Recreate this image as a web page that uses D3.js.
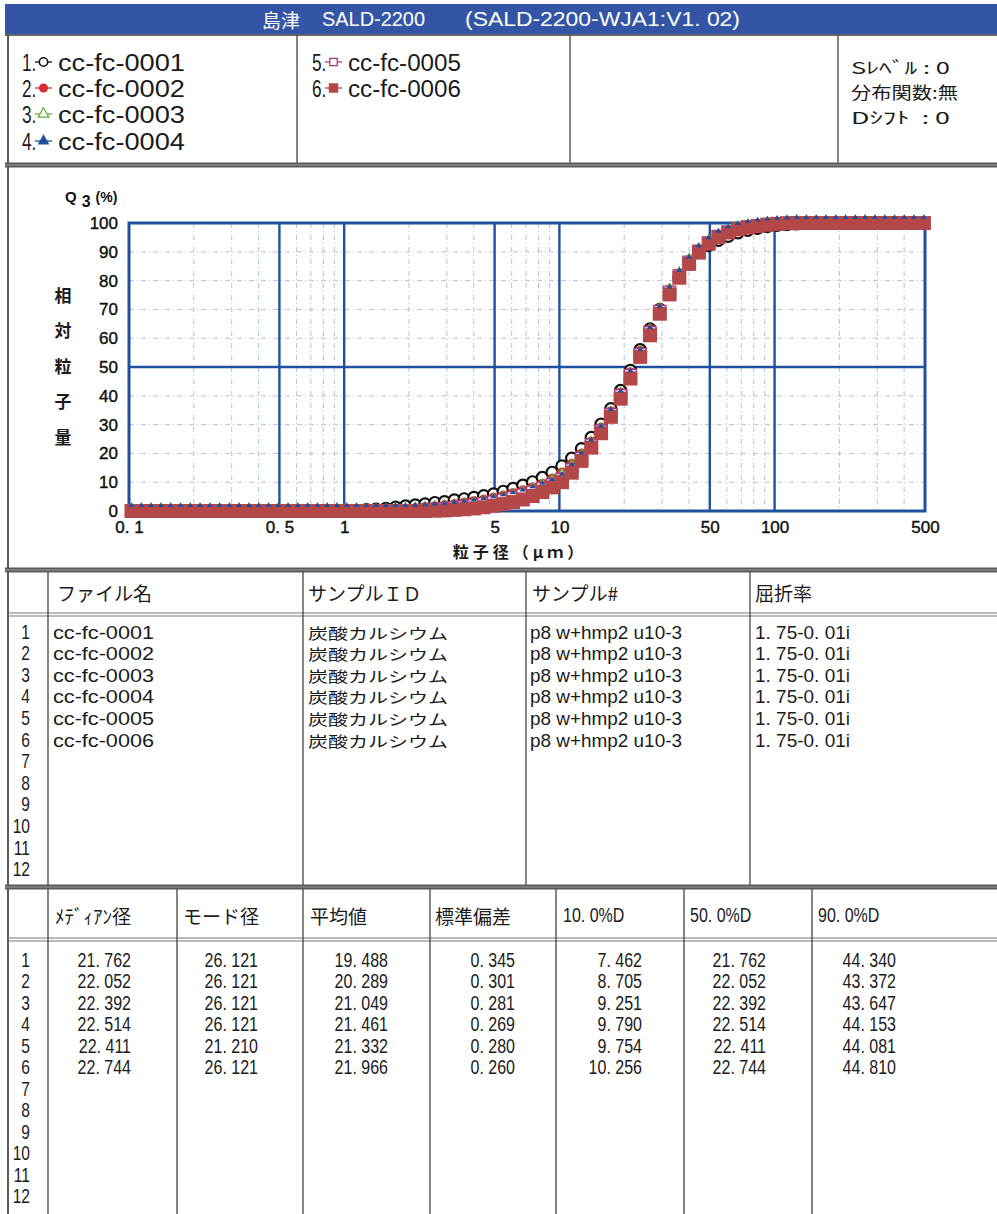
<!DOCTYPE html>
<html>
<head>
<meta charset="utf-8">
<script src="https://cdn.jsdelivr.net/npm/d3@7"></script>
<style>
  body { margin: 0; background: #fff; }
  svg { display: block; }
  text { white-space: pre; }
</style>
</head>
<body>
<svg id="page" width="997" height="1214"></svg>
<script>
// ---- Particle size channels (µm) ----
const sizes = [
  0.1028, 0.1141, 0.1268, 0.1407, 0.1562, 0.1735, 0.1926, 0.2139, 0.2375, 0.2637,
  0.2928, 0.3251, 0.3610, 0.4008, 0.4450, 0.4941, 0.5486, 0.6091, 0.6763, 0.7509,
  0.8337, 0.9257, 1.028, 1.141, 1.267, 1.407, 1.562, 1.734, 1.926, 2.138,
  2.374, 2.636, 2.927, 3.250, 3.609, 4.007, 4.449, 4.939, 5.484, 6.089,
  6.761, 7.507, 8.335, 9.256, 10.28, 11.41, 12.67, 14.07, 15.62, 17.34,
  19.26, 21.38, 23.74, 26.36, 29.27, 32.50, 36.08, 40.07, 44.48, 49.39,
  54.83, 60.89, 67.60, 75.07, 83.34, 92.54, 102.7, 114.1, 126.6, 140.6,
  156.1, 173.4, 192.5, 213.7, 237.3, 263.5, 292.6, 324.9, 360.7, 400.5,
  444.7, 493.7
];

// ---- Cumulative undersize Q3 (%) for each measurement ----
const q3_0001 = [
  0, 0, 0, 0, 0, 0, 0, 0, 0, 0,
  0, 0, 0, 0, 0, 0, 0, 0, 0, 0,
  0, 0, 0.1, 0.2, 0.4, 0.6, 0.9, 1.3, 1.7, 2.1,
  2.4, 2.9, 3.2, 3.8, 4.2, 4.7, 5.3, 5.9, 6.8, 7.8,
  8.9, 10.1, 11.6, 13.4, 15.6, 18.3, 21.6, 25.5, 30.1, 35.5,
  41.8, 48.8, 56.0, 63.2, 70.0, 76.0, 81.2, 85.9, 89.8, 92.2,
  94.0, 95.4, 96.6, 97.5, 98.2, 98.8, 99.2, 99.5, 99.7, 99.9,
  100, 100, 100, 100, 100, 100, 100, 100, 100, 100,
  100, 100
];
const q3_0002 = [
  0, 0, 0, 0, 0, 0, 0, 0, 0, 0,
  0, 0, 0, 0, 0, 0, 0, 0, 0, 0,
  0, 0, 0, 0, 0, 0.1, 0.2, 0.4, 0.6, 0.9,
  1.2, 1.5, 1.9, 2.3, 2.8, 3.3, 3.8, 4.5, 5.2, 6.1,
  7.0, 8.1, 9.3, 11.1, 13.2, 16.2, 19.8, 24.0, 28.8, 34.5,
  41.0, 48.0, 55.5, 63.0, 70.2, 76.8, 82.4, 87.0, 90.7, 93.5,
  95.5, 96.9, 97.9, 98.6, 99.1, 99.5, 99.7, 99.9, 100, 100,
  100, 100, 100, 100, 100, 100, 100, 100, 100, 100,
  100, 100
];
const q3_0003 = [
  0, 0, 0, 0, 0, 0, 0, 0, 0, 0,
  0, 0, 0, 0, 0, 0, 0, 0, 0, 0,
  0, 0, 0, 0, 0, 0, 0, 0.1, 0.2, 0.4,
  0.6, 0.9, 1.2, 1.5, 1.9, 2.4, 2.9, 3.5, 4.2, 5.0,
  6.0, 7.2, 8.5, 10.0, 12.2, 15.2, 18.9, 23.2, 28.0, 33.7,
  40.2, 47.2, 54.6, 62.3, 69.7, 76.4, 82.1, 86.8, 90.5, 93.3,
  95.4, 96.9, 97.9, 98.6, 99.1, 99.5, 99.7, 99.9, 100, 100,
  100, 100, 100, 100, 100, 100, 100, 100, 100, 100,
  100, 100
];
const q3_0004 = [
  0, 0, 0, 0, 0, 0, 0, 0, 0, 0,
  0, 0, 0, 0, 0, 0, 0, 0, 0, 0,
  0, 0, 0, 0, 0, 0, 0, 0, 0, 0.1,
  0.3, 0.5, 0.8, 1.1, 1.5, 1.9, 2.4, 3.0, 3.7, 4.5,
  5.4, 6.5, 7.7, 9.0, 10.9, 14.2, 18.2, 22.7, 27.6, 33.3,
  39.8, 46.8, 54.2, 61.8, 69.2, 75.9, 81.6, 86.3, 90.1, 93.0,
  95.2, 96.8, 97.9, 98.6, 99.1, 99.5, 99.7, 99.9, 100, 100,
  100, 100, 100, 100, 100, 100, 100, 100, 100, 100,
  100, 100
];
const q3_0005 = [
  0, 0, 0, 0, 0, 0, 0, 0, 0, 0,
  0, 0, 0, 0, 0, 0, 0, 0, 0, 0,
  0, 0, 0, 0, 0, 0, 0, 0, 0, 0.1,
  0.3, 0.5, 0.8, 1.1, 1.5, 2.0, 2.5, 3.1, 3.8, 4.6,
  5.5, 6.6, 7.8, 9.1, 11.0, 14.3, 18.3, 22.9, 27.8, 33.5,
  40.1, 47.1, 54.4, 62.0, 69.3, 76.0, 81.7, 86.4, 90.2, 93.1,
  95.3, 96.8, 97.9, 98.6, 99.1, 99.5, 99.7, 99.9, 100, 100,
  100, 100, 100, 100, 100, 100, 100, 100, 100, 100,
  100, 100
];
const q3_0006 = [
  0, 0, 0, 0, 0, 0, 0, 0, 0, 0,
  0, 0, 0, 0, 0, 0, 0, 0, 0, 0,
  0, 0, 0, 0, 0, 0, 0, 0, 0, 0,
  0, 0.1, 0.2, 0.4, 0.6, 0.9, 1.3, 1.8, 2.4, 3.1,
  4.0, 5.2, 6.6, 8.2, 10.0, 13.3, 17.4, 22.0, 27.0, 32.7,
  39.0, 46.0, 53.5, 61.0, 68.5, 75.2, 81.0, 85.8, 89.7, 92.8,
  95.1, 96.7, 97.8, 98.5, 99.0, 99.4, 99.7, 99.9, 100, 100,
  100, 100, 100, 100, 100, 100, 100, 100, 100, 100,
  100, 100
];

// ---- Axis ticks ----
const yTicks = [0, 10, 20, 30, 40, 50, 60, 70, 80, 90, 100];
const xTickVals = [0.1, 0.5, 1, 5, 10, 50, 100, 500];
const xTickLabels = ["0. 1", "0. 5", "1", "5", "10", "50", "100", "500"];
const xMajorGrid = [0.5, 1, 5, 10, 50, 100];
const xMinorGrid = [0.2, 0.3, 0.4, 0.6, 0.7, 0.8, 0.9, 2, 3, 4, 6, 7, 8, 9,
                    20, 30, 40, 60, 70, 80, 90, 200, 300, 400];
const yMajorGrid = [50];
const yMinorGrid = [10, 20, 30, 40, 60, 70, 80, 90];

// ---- Sample table ----
const fileNames = ["cc-fc-0001", "cc-fc-0002", "cc-fc-0003", "cc-fc-0004", "cc-fc-0005", "cc-fc-0006"];
const sampleIds = ["炭酸カルシウム", "炭酸カルシウム", "炭酸カルシウム", "炭酸カルシウム", "炭酸カルシウム", "炭酸カルシウム"];
const sampleNos = ["p8 w+hmp2 u10-3", "p8 w+hmp2 u10-3", "p8 w+hmp2 u10-3", "p8 w+hmp2 u10-3", "p8 w+hmp2 u10-3", "p8 w+hmp2 u10-3"];
const refrIndex = ["1. 75-0. 01i", "1. 75-0. 01i", "1. 75-0. 01i", "1. 75-0. 01i", "1. 75-0. 01i", "1. 75-0. 01i"];

// ---- Statistics table ----
const medianDia = ["21. 762", "22. 052", "22. 392", "22. 514", "22. 411", "22. 744"];
const modeDia   = ["26. 121", "26. 121", "26. 121", "26. 121", "21. 210", "26. 121"];
const meanVal   = ["19. 488", "20. 289", "21. 049", "21. 461", "21. 332", "21. 966"];
const stdDev    = ["0. 345", "0. 301", "0. 281", "0. 269", "0. 280", "0. 260"];
const d10       = ["7. 462", "8. 705", "9. 251", "9. 790", "9. 754", "10. 256"];
const d50       = ["21. 762", "22. 052", "22. 392", "22. 514", "22. 411", "22. 744"];
const d90       = ["44. 340", "43. 372", "43. 647", "44. 153", "44. 081", "44. 810"];

// ------------------------------------------------------------------
const svg = d3.select("#page");
const LAT = "'Liberation Sans', Arial, sans-serif";
const CJK = "'Noto Sans CJK JP', 'Noto Sans CJK SC', sans-serif";
const INK = "#1b1b1b";

function label(parent, x, y, str, o = {}) {
  const t = parent.append("text")
    .attr("transform", `translate(${x},${y}) scale(${o.sx || 1},1)`)
    .attr("font-family", o.font || LAT)
    .attr("font-size", o.size || 19)
    .attr("font-weight", o.weight || "normal")
    .attr("fill", o.color || INK)
    .attr("text-anchor", o.anchor || "start")
    .attr("dominant-baseline", "central")
    .text(str);
  if (o.len) t.attr("textLength", o.len).attr("lengthAdjust", "spacingAndGlyphs");
  if (o.ls) t.attr("letter-spacing", o.ls);
  return t;
}
function hline(y, x1, x2, w, c) {
  svg.append("line").attr("x1", x1).attr("x2", x2).attr("y1", y).attr("y2", y)
    .attr("stroke", c || "#333").attr("stroke-width", w || 1.3);
}
function vline(x, y1, y2, w, c) {
  svg.append("line").attr("x1", x).attr("x2", x).attr("y1", y1).attr("y2", y2)
    .attr("stroke", c || "#333").attr("stroke-width", w || 1.3);
}
function band(y) {
  svg.append("rect").attr("x", 5).attr("y", y - 2.5).attr("width", 992).attr("height", 5).attr("fill", "#5a5a5a");
  hline(y, 5, 997, 1, "#9a9a9a");
}

// ---- Header bar ----
svg.append("rect").attr("x", 5).attr("y", 4).attr("width", 992).attr("height", 30).attr("fill", "#3455a6");
label(svg, 262, 19, "島津", { font: CJK, size: 19, color: "#fff" });
label(svg, 322, 19, "SALD-2200", { size: 20, color: "#fff", len: 103 });
label(svg, 465, 19, "(SALD-2200-WJA1:V1. 02)", { size: 20, color: "#fff", len: 275 });

// ---- Frame lines ----
hline(35, 5, 997, 1.5, "#333");
vline(8, 35, 1214, 1.6, "#333");
[297, 570, 838].forEach(x => vline(x, 35, 163, 1.3, "#444"));
band(165);
band(570);
band(887);

// ---- Legend ----
const markerDefs = [
  { sym: d3.symbolCircle,   size: 55,  fill: "#fff",    stroke: "#111",    sw: 1.6 },
  { sym: d3.symbolCircle,   size: 65,  fill: "#d32f2f", stroke: "none",    sw: 0 },
  { sym: d3.symbolTriangle, size: 50,  fill: "#fff",    stroke: "#66b03c", sw: 1.3 },
  { sym: d3.symbolTriangle, size: 60,  fill: "#244e9a", stroke: "none",    sw: 0 },
  { sym: d3.symbolSquare,   size: 55,  fill: "#fff",    stroke: "#b03a76", sw: 1.3 },
  { sym: d3.symbolSquare,   size: 90,  fill: "#b44848", stroke: "none",    sw: 0 }
];
const lineCol = ["#111", "#d32f2f", "#66b03c", "#244e9a", "#b03a76", "#b44848"];
const legendPos = [
  { x: 22, y: 62 }, { x: 22, y: 88 }, { x: 22, y: 114 }, { x: 22, y: 141 },
  { x: 312, y: 62 }, { x: 312, y: 88 }
];
fileNames.forEach((name, i) => {
  const p = legendPos[i];
  label(svg, p.x, p.y + 1, (i + 1) + ".", { size: 23, sx: 0.75 });
  svg.append("line").attr("x1", p.x + 13).attr("x2", p.x + 30).attr("y1", p.y).attr("y2", p.y)
    .attr("stroke", lineCol[i]).attr("stroke-width", 1.3);
  const m = markerDefs[i];
  svg.append("path").attr("transform", `translate(${p.x + 21.5},${p.y})`)
    .attr("d", d3.symbol(m.sym, m.size)())
    .attr("fill", m.fill).attr("stroke", m.stroke).attr("stroke-width", m.sw);
  label(svg, p.x + 36, p.y + 1, name, { size: 23, len: i < 4 ? 127 : 113 });
});
label(svg, 851, 67, "Sﾚﾍﾞﾙ : 0", { font: CJK, size: 16.5, len: 99 });
label(svg, 851, 92, "分布関数:無", { font: CJK, size: 16.5, len: 107 });
label(svg, 851, 117, "Dｼﾌﾄ  : 0", { font: CJK, size: 16.5, len: 99 });

// ---- Chart ----
const x = d3.scaleLog().domain([0.1, 500]).range([129, 925]);
const y = d3.scaleLinear().domain([0, 100]).range([511, 223]);
const chart = svg.append("g");

const gridBlue = "#1f51a0";
const gridLight = "#b3c2db";
chart.selectAll(".vminor").data(xMinorGrid).join("line")
  .attr("x1", d => x(d)).attr("x2", d => x(d)).attr("y1", y(100)).attr("y2", y(0))
  .attr("stroke", gridLight).attr("stroke-width", 1).attr("stroke-dasharray", "5,3,1,3");
chart.selectAll(".hminor").data(yMinorGrid).join("line")
  .attr("x1", x(0.1)).attr("x2", x(500)).attr("y1", d => y(d)).attr("y2", d => y(d))
  .attr("stroke", gridLight).attr("stroke-width", 1).attr("stroke-dasharray", "5,3,1,3");
chart.selectAll(".vmajor").data(xMajorGrid).join("line")
  .attr("x1", d => x(d)).attr("x2", d => x(d)).attr("y1", y(100)).attr("y2", y(0))
  .attr("stroke", gridBlue).attr("stroke-width", 2.4);
chart.selectAll(".hmajor").data(yMajorGrid).join("line")
  .attr("x1", x(0.1)).attr("x2", x(500)).attr("y1", d => y(d)).attr("y2", d => y(d))
  .attr("stroke", gridBlue).attr("stroke-width", 2.4);
chart.append("rect")
  .attr("x", x(0.1)).attr("y", y(100))
  .attr("width", x(500) - x(0.1)).attr("height", y(0) - y(100))
  .attr("fill", "none").attr("stroke", gridBlue).attr("stroke-width", 3);

// Axes
const yAxis = chart.append("g").attr("transform", "translate(118,0)")
  .call(d3.axisLeft(y).tickValues(yTicks).tickSize(0).tickPadding(0));
yAxis.select(".domain").remove();
yAxis.selectAll("text").attr("font-family", LAT).attr("font-size", 17)
  .attr("fill", "#111").attr("stroke", "#111").attr("stroke-width", 0.4);

const xAxis = chart.append("g").attr("transform", "translate(0,521)")
  .call(d3.axisBottom(x).tickValues(xTickVals).tickFormat((d, i) => xTickLabels[i]).tickSize(0).tickPadding(0));
xAxis.select(".domain").remove();
xAxis.selectAll("text").attr("font-family", LAT).attr("font-size", 17)
  .attr("fill", "#111").attr("stroke", "#111").attr("stroke-width", 0.4);

// Axis titles
const q3 = chart.append("text").attr("x", 65).attr("y", 202)
  .attr("font-family", LAT).attr("font-size", 15).attr("font-weight", "bold").attr("fill", "#111");
q3.append("tspan").text("Q");
q3.append("tspan").attr("dx", 5).attr("dy", 5).attr("font-size", 16).text("3");
q3.append("tspan").attr("dx", 5).attr("dy", -5).attr("font-size", 14).text("(%)");
["相", "対", "粒", "子", "量"].forEach((c, i) => {
  label(chart, 63, 294 + i * 35.5, c, { font: CJK, size: 17, weight: "bold", anchor: "middle" });
});
label(chart, 520, 551, "粒子径（μｍ）", { font: CJK, size: 16, weight: "bold", anchor: "middle", ls: 4 });

// Data markers
const allSeries = [q3_0001, q3_0002, q3_0003, q3_0004, q3_0005, q3_0006];
function plotSeries(idx, pathFn, style) {
  const pts = sizes.map((s, i) => ({ s, v: allSeries[idx][i] }));
  chart.append("g").selectAll("path").data(pts).join("path")
    .attr("transform", d => `translate(${x(d.s)},${y(d.v)})`)
    .attr("d", pathFn)
    .attr("fill", style.fill).attr("stroke", style.stroke).attr("stroke-width", style.sw);
}
plotSeries(0, d3.symbol(d3.symbolCircle, 100)(), { fill: "#fff", stroke: "#111", sw: 2.2 });
plotSeries(1, d3.symbol(d3.symbolCircle, 95)(), { fill: "#d32f2f", stroke: "none", sw: 0 });
plotSeries(2, d3.symbol(d3.symbolTriangle, 70)(), { fill: "#fff", stroke: "#66b03c", sw: 1.4 });
plotSeries(4, d3.symbol(d3.symbolSquare, 144)(), { fill: "#f6e3ea", stroke: "#b03a76", sw: 1.4 });
plotSeries(5, d3.symbol(d3.symbolSquare, 196)(), { fill: "#b44848", stroke: "none", sw: 0 });
plotSeries(3, "M0,-8.5L3.2,-4L-3.2,-4Z", { fill: "#244e9a", stroke: "none", sw: 0 });

// ---- Sample table ----
label(svg, 57, 592, "ファイル名", { font: CJK, size: 19 });
label(svg, 308, 592, "サンプルＩＤ", { font: CJK, size: 19 });
label(svg, 532, 592, "サンプル#", { font: CJK, size: 19 });
label(svg, 755, 592, "屈折率", { font: CJK, size: 19 });
hline(613, 8, 997, 1.2, "#777");
hline(616, 8, 997, 1.2, "#777");
[48, 303, 526, 750].forEach(xx => vline(xx, 572, 885, 1.3, "#444"));

const rowY1 = d3.range(12).map(i => 632 + i * 21.6);
rowY1.forEach((ry, i) => label(svg, 30, ry, String(i + 1), { size: 20, sx: 0.78, anchor: "end" }));
fileNames.forEach((v, i) => label(svg, 53, rowY1[i], v, { size: 19, len: 101 }));
sampleIds.forEach((v, i) => label(svg, 308, rowY1[i], v, { font: CJK, size: 14.8, len: 140 }));
sampleNos.forEach((v, i) => label(svg, 530, rowY1[i], v, { size: 19, len: 152 }));
refrIndex.forEach((v, i) => label(svg, 755, rowY1[i], v, { size: 19, len: 95 }));

// ---- Statistics table ----
const statHeads = [
  { t: "ﾒﾃﾞｨｱﾝ径", x: 55, cjk: true }, { t: "モード径", x: 183, cjk: true },
  { t: "平均値", x: 310, cjk: true }, { t: "標準偏差", x: 435, cjk: true },
  { t: "10. 0%D", x: 563 }, { t: "50. 0%D", x: 690 }, { t: "90. 0%D", x: 818 }
];
statHeads.forEach(h => label(svg, h.x, 915, h.t, h.cjk ? { font: CJK, size: 19 } : { size: 20, sx: 0.8 }));
hline(938, 8, 997, 1.2, "#777");
hline(941, 8, 997, 1.2, "#777");
[48, 177, 303, 430, 556, 684, 812].forEach(xx => vline(xx, 889, 1214, 1.3, "#444"));

const rowY2 = d3.range(12).map(i => 960 + i * 21.5);
rowY2.forEach((ry, i) => label(svg, 30, ry, String(i + 1), { size: 20, sx: 0.78, anchor: "end" }));
const statCols = [
  { vals: medianDia, x: 131 }, { vals: modeDia, x: 258 }, { vals: meanVal, x: 388 },
  { vals: stdDev, x: 515 }, { vals: d10, x: 642 }, { vals: d50, x: 766 }, { vals: d90, x: 896 }
];
statCols.forEach(c => c.vals.forEach((v, i) =>
  label(svg, c.x, rowY2[i], v, { size: 20, sx: 0.8, anchor: "end" })));
</script>
</body>
</html>
